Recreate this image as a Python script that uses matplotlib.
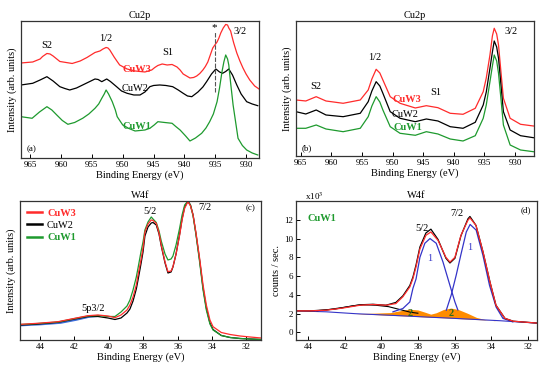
import matplotlib
matplotlib.use('Agg')
import matplotlib.pyplot as plt
import numpy as np

plt.rcParams['font.family'] = ['Liberation Serif', 'DejaVu Serif']
plt.rcParams['mathtext.fontset'] = 'stix'

RED = '#ff2b2b'
GREEN = '#1e9a2e'
BLUE = '#3434c8'
ORANGE = '#ff8c00'

# ---- panel (a): Cu2p, sample set 1 (arb. units) ----
a_red_e = [966.5, 964.6, 963.4, 963.0, 962.3, 961.8, 961.3, 960.2, 958.2, 956.9, 955.8, 954.5,
           953.7, 953.2, 952.7, 952.4, 952.1, 951.8, 951.4, 950.9, 950.5, 949.3, 948.0, 946.4,
           945.3, 944.8, 944.3, 943.6, 942.8, 942.0, 941.2, 940.7, 940.2, 939.1, 938.5, 938.0,
           937.5, 937.0, 936.6, 936.2, 935.8, 935.4, 935.0, 934.7, 934.4, 934.1, 933.7, 933.3,
           933.0, 932.8, 932.5, 932.3, 932.0, 931.5, 931.0, 930.5, 930.0, 929.4, 928.6, 927.9]
a_red_i = [95, 96, 99, 101.5, 104.5, 104, 102, 96.5, 94.5, 97, 100.5, 105.5,
           107, 109, 110.5, 110, 108, 105, 101, 96.5, 93, 89, 87, 86,
           88, 90.5, 92.5, 94, 93, 93.5, 91, 88, 84, 80, 80.5, 82,
           84.5, 88, 91.5, 96, 103, 110, 113.5, 116, 120, 125, 130, 133.5,
           133, 130, 127, 122, 115, 105, 97, 90, 84, 78, 72, 69]
a_blk_e = [966.5, 964.6, 963.4, 962.3, 961.3, 960.2, 959.4, 958.6, 957.5, 956.5, 955.5, 954.5,
           954.0, 953.4, 952.6, 952.0, 951.0, 950.2, 949.3, 948.2, 947.2, 946.4, 945.6, 945.0,
           944.0, 943.0, 941.9, 941.0, 940.2, 939.5, 938.8, 937.8, 937.0, 936.4, 935.6, 934.9,
           934.3, 933.8, 933.3, 932.8, 932.2, 931.5, 930.8, 929.9, 929.0, 928.1]
a_blk_i = [73, 74.7, 78, 81.3, 77, 71.3, 69.5, 68, 70, 73, 76, 79,
           78.5, 76.3, 79, 76.5, 71.3, 67, 64.7, 63, 63, 66, 71.3, 72.5,
           73, 72.5, 71.3, 68, 64.7, 62, 61.3, 66, 71, 76.3, 84, 89,
           86, 84.7, 86.5, 89, 83, 73, 64, 56.3, 54, 52.3]
a_grn_e = [966.5, 964.7, 963.5, 962.3, 961.5, 960.7, 959.8, 958.9, 957.8, 956.5, 955.5, 954.5,
           953.9, 953.4, 953.0, 952.7, 952.3, 951.7, 951.2, 950.9, 950.0, 949.0, 948.0, 947.2,
           946.4, 945.6, 944.9, 944.3, 943.2, 942.0, 941.4, 940.7, 939.8, 939.1, 938.2, 937.2,
           936.5, 935.9, 935.3, 934.7, 934.3, 933.9, 933.6, 933.3, 933.0, 932.8, 932.5, 932.1,
           931.3, 930.6, 929.9, 929.0, 928.1]
a_grn_i = [41.3, 39.7, 46, 51.3, 48, 43, 37.5, 33.7, 35.5, 39.7, 44, 49.7,
           54, 59.7, 64, 68, 64, 56.3, 48, 41.3, 33, 29.5, 27, 27.5,
           28, 29.7, 33, 36.3, 35.5, 34.7, 31.5, 28, 22, 17, 20, 24.7,
           30, 36.3, 44, 56.3, 70, 86.3, 96, 103, 99, 93, 75, 53,
           19.7, 12.5, 8, 5, 3]

# ---- panel (b): Cu2p, sample set 2 ----
b_e = [965.8, 964.2, 962.5, 960.9, 958.1, 955.3, 954.0, 953.4, 952.7, 952.1, 951.6, 950.4,
       948.8, 946.3, 944.5, 942.6, 940.6, 938.5, 936.5, 935.2, 934.7, 934.1, 933.7, 933.4,
       933.0, 932.7, 932.3, 931.9, 930.8, 929.1, 927.0]
b_red = [56, 55, 59.3, 55, 52.7, 56, 66, 77, 86.7, 83, 76, 59.3,
         52.7, 48, 50.3, 48.3, 42.7, 41.7, 47.7, 64.3, 78, 101, 120, 127.7,
         122, 111, 84, 57.7, 37.7, 31.7, 30]
b_blk = [44.3, 42, 46, 41, 39.3, 42.7, 54.3, 65, 74.3, 70, 62.7, 44.3,
         37.7, 34.3, 37, 35, 29.3, 27.7, 33.7, 51, 64, 87.7, 104, 115,
         109, 97.7, 71, 44.3, 26, 20.3, 18.3]
b_grn = [27.7, 27.7, 31, 27, 24.3, 27.7, 39.3, 50, 59.3, 54, 46, 29.3,
         22.7, 20.7, 24.3, 22, 17, 15, 20.3, 37.7, 51, 74.3, 90, 101,
         95, 82.7, 57, 31, 11, 6, 4.3]

# ---- panel (c): W4f, three samples ----
c_e = [45.10, 44.12, 42.95, 41.97, 41.21, 40.63, 40.05, 39.64, 39.29, 38.94, 38.77, 38.59,
       38.40, 38.30, 38.13, 38.01, 37.90, 37.72, 37.53, 37.43, 37.24, 37.08, 36.95, 36.73,
       36.56, 36.38, 36.27, 36.09, 35.88, 35.74, 35.59, 35.40, 35.25, 35.10, 34.93, 34.72,
       34.52, 34.33, 34.12, 33.94, 33.46, 32.95, 32.37, 31.79, 31.15]
c_red = [15.7, 16.7, 18.3, 21.7, 24.3, 25, 24, 22.3, 25, 30, 35, 43,
         55, 65, 80, 92, 108, 116, 120, 119.5, 116.7, 107, 95, 78,
         68.3, 69, 73.3, 86, 105, 120, 131.7, 138.3, 134, 125, 107, 81.7,
         55, 35, 20, 13.3, 7.5, 5.5, 4, 3, 2]
c_blk = [15, 16, 17.7, 21, 23.5, 23.5, 22, 20.5, 22, 27, 31, 39,
         51, 60, 76, 88, 104, 113, 117, 117.5, 115, 106, 94, 77,
         67, 68, 73, 86, 106, 121, 133, 139, 135, 125, 106, 80,
         52, 32, 17, 10.5, 4.5, 2.5, 1.5, 1, 0.5]
c_grn = [15.5, 16.5, 18, 21.5, 24, 24.5, 23.5, 23.5, 28, 34, 40, 50,
         63, 72, 88, 98, 110, 118, 123, 121, 117.5, 109, 99, 86,
         80, 81, 84, 95, 112, 125, 135, 139, 134.5, 124, 105, 78,
         50, 30, 16, 10, 4.5, 2.5, 1.5, 1, 0.5]
c_bg_e = [45.10, 43.95, 42.80, 41.90, 41.15, 40.55]
c_bg_i = [14.5, 15.5, 17, 20, 23, 24]

# ---- panel (d): W4f fit of CuW1 (counts/sec, x10^3) ----
d_env_e = [44.65, 43.9, 43.0, 42.1, 41.16, 40.45, 39.74, 39.2, 38.82, 38.44, 38.27, 38.1,
           37.89, 37.56, 37.29, 36.9, 36.47, 36.25, 35.98, 35.65, 35.27, 35.16, 34.83, 34.45,
           34.07, 33.74, 33.25, 32.8, 32.15, 31.5]
d_fit = [2.3, 2.3, 2.37, 2.6, 2.9, 2.98, 2.9, 3.08, 3.8, 4.85, 5.74, 7.0,
         8.9, 10.35, 10.7, 9.8, 8.0, 7.5, 8.0, 10.35, 11.95, 12.2, 11.4, 8.6,
         5.4, 2.9, 1.5, 1.2, 1.1, 1.0]
d_meas = [2.3, 2.3, 2.4, 2.65, 2.95, 3.0, 2.9, 3.2, 3.9, 5.0, 5.9, 7.2,
          9.1, 10.6, 11.0, 9.9, 7.9, 7.4, 7.9, 10.3, 12.1, 12.35, 11.4, 8.6,
          5.4, 2.9, 1.5, 1.2, 1.1, 1.0]
d_p52_e = [39.36, 38.82, 38.44, 38.27, 38.1, 37.89, 37.62, 37.34, 37.0, 36.63, 36.25, 35.98, 35.82]
d_p52 = [2.2, 2.55, 3.25, 4.7, 5.7, 8.0, 9.5, 10.0, 9.5, 7.5, 5.0, 3.25, 2.4]
d_p72_e = [36.45, 36.18, 35.91, 35.64, 35.36, 35.15, 34.82, 34.45, 34.09, 33.73, 33.36, 32.82]
d_p72 = [2.37, 4.0, 6.1, 8.4, 10.7, 11.5, 10.9, 8.2, 5.0, 2.7, 1.5, 1.13]
d_5p_e = [43.5, 42.5, 41.5, 41.0, 40.3, 39.6, 39.0, 38.4, 38.0]
d_5p = [2.32, 2.5, 2.85, 2.95, 2.9, 2.75, 2.45, 2.15, 2.05]
d_bg_e = [44.65, 43.0, 41.4, 40.5, 39.5, 38.5, 37.5, 36.5, 35.5, 34.5, 33.5, 32.5, 31.5]
d_bg = [2.3, 2.2, 2.0, 1.92, 1.83, 1.74, 1.64, 1.55, 1.45, 1.35, 1.25, 1.12, 1.0]
d_c2_e = [41.4, 40.5, 39.5, 39.0, 38.5, 38.0, 37.6, 37.3, 37.0, 36.6, 36.2, 35.8, 35.3, 34.8, 34.3, 33.8]
d_c2 = [2.0, 2.05, 2.12, 2.3, 2.48, 2.4, 2.15, 1.95, 2.1, 2.45, 2.6, 2.45, 2.05, 1.6, 1.36, 1.25]

fig = plt.figure(figsize=(5.5, 3.7), dpi=100)
ax_a = fig.add_axes([0.0382, 0.573, 0.4327, 0.3703])
ax_b = fig.add_axes([0.5382, 0.5784, 0.4327, 0.3649])
ax_c = fig.add_axes([0.0364, 0.0811, 0.4382, 0.3757])
ax_d = fig.add_axes([0.5382, 0.0811, 0.4382, 0.3757])

for ax in (ax_a, ax_b, ax_c, ax_d):
    for s in ax.spines.values():
        s.set_linewidth(0.9)
        s.set_color('#333333')
    ax.tick_params(direction='in', length=3, width=0.7, labelsize=6.5, pad=2,
                   top=False, right=False)
    ax.set_xlabel('Binding Energy (eV)', fontsize=7.5, labelpad=1)

lw = 0.9

# (a)
ax_a.plot(a_red_e, a_red_i, color=RED, lw=lw)
ax_a.plot(a_blk_e, a_blk_i, color='black', lw=lw)
ax_a.plot(a_grn_e, a_grn_i, color=GREEN, lw=lw)
ax_a.vlines(935, 66, 126, colors='#555555', linestyles=(0, (4, 1.5)), lw=0.8)
ax_a.set_xlim(966.5, 927.9)
ax_a.set_ylim(0, 137)
ax_a.set_xticks([965, 960, 955, 950, 945, 940, 935, 930])
ax_a.set_yticks([])
ax_a.set_ylabel('Intensity (arb. units)', fontsize=7.5, labelpad=3)
ax_a.set_title('Cu2p', fontsize=7.5, pad=2)
ax_a.text(962.3, 112, 'S2', fontsize=7.5, ha='center', va='center')
ax_a.text(952.7, 119, '1/2', fontsize=7.5, ha='center', va='center')
ax_a.text(942.7, 105, 'S1', fontsize=7.5, ha='center', va='center')
ax_a.text(931.0, 126, '3/2', fontsize=7.5, ha='center', va='center')
ax_a.text(935.2, 130, '*', fontsize=8, ha='center', va='center')
ax_a.text(947.7, 88, 'CuW3', fontsize=7.5, color=RED, fontweight='bold', ha='center', va='center')
ax_a.text(948.0, 69, 'CuW2', fontsize=7.5, color='black', ha='center', va='center')
ax_a.text(947.7, 31, 'CuW1', fontsize=7.5, color=GREEN, fontweight='bold', ha='center', va='center')
ax_a.text(0.046, 0.066, '(a)', fontsize=6.5, ha='center', va='center', transform=ax_a.transAxes)

# (b)
ax_b.plot(b_e, b_red, color=RED, lw=lw)
ax_b.plot(b_e, b_blk, color='black', lw=lw)
ax_b.plot(b_e, b_grn, color=GREEN, lw=lw)
ax_b.set_xlim(965.8, 926.9)
ax_b.set_ylim(0, 135)
ax_b.set_xticks([965, 960, 955, 950, 945, 940, 935, 930])
ax_b.set_yticks([])
ax_b.set_ylabel('Intensity (arb. units)', fontsize=7.5, labelpad=3)
ax_b.set_title('Cu2p', fontsize=7.5, pad=2)
ax_b.text(962.5, 69, 'S2', fontsize=7.5, ha='center', va='center')
ax_b.text(952.9, 98, '1/2', fontsize=7.5, ha='center', va='center')
ax_b.text(942.9, 63, 'S1', fontsize=7.5, ha='center', va='center')
ax_b.text(930.6, 124, '3/2', fontsize=7.5, ha='center', va='center')
ax_b.text(947.6, 56, 'CuW3', fontsize=7.5, color=RED, fontweight='bold', ha='center', va='center')
ax_b.text(948.0, 41, 'CuW2', fontsize=7.5, color='black', ha='center', va='center')
ax_b.text(947.5, 28, 'CuW1', fontsize=7.5, color=GREEN, fontweight='bold', ha='center', va='center')
ax_b.text(0.046, 0.06, '(b)', fontsize=6.5, ha='center', va='center', transform=ax_b.transAxes)

# (c)
ax_c.plot(c_bg_e, c_bg_i, color='#3a6bd8', lw=1.2)
ax_c.plot(c_e, c_blk, color='black', lw=lw, label='CuW2')
ax_c.plot(c_e, c_grn, color=GREEN, lw=lw, label='CuW1')
ax_c.plot(c_e, c_red, color=RED, lw=lw, label='CuW3')
ax_c.set_xlim(45.16, 31.15)
ax_c.set_ylim(0, 139)
ax_c.set_xticks([44, 42, 40, 38, 36, 34, 32])
ax_c.set_yticks([])
ax_c.set_ylabel('Intensity (arb. units)', fontsize=7.5, labelpad=3)
ax_c.set_title('W4f', fontsize=7.5, pad=2)
h, l = ax_c.get_legend_handles_labels()
order = [2, 0, 1]
leg = ax_c.legend([h[i] for i in order], [l[i] for i in order], loc='upper left',
                  frameon=False, fontsize=7.5, handlelength=1.4, handletextpad=0.5,
                  labelspacing=0.3, borderaxespad=0.3)
for line in leg.get_lines():
    line.set_linewidth(1.8)
for txt, col, wt in zip(leg.get_texts(), [RED, 'black', GREEN], ['bold', 'normal', 'bold']):
    txt.set_color(col)
    txt.set_fontweight(wt)
ax_c.text(37.62, 128, '5/2', fontsize=7.5, ha='center', va='center')
ax_c.text(34.42, 132, '7/2', fontsize=7.5, ha='center', va='center')
ax_c.text(40.92, 31, '5p3/2', fontsize=7.5, ha='center', va='center')
ax_c.text(0.958, 0.95, '(c)', fontsize=6.5, ha='center', va='center', transform=ax_c.transAxes)

# (d)
ax_d.fill_between(d_c2_e, np.interp(d_c2_e, d_bg_e[::-1], d_bg[::-1]), d_c2, color=ORANGE, lw=0)
ax_d.plot(d_bg_e, d_bg, color=BLUE, lw=0.8)
ax_d.plot(d_5p_e, d_5p, color='black', lw=0.8)
ax_d.plot(d_p52_e, d_p52, color=BLUE, lw=lw)
ax_d.plot(d_p72_e, d_p72, color=BLUE, lw=lw)
ax_d.plot(d_env_e, d_meas, color='black', lw=lw)
ax_d.plot(d_env_e, d_fit, color=RED, lw=lw)
ax_d.set_xlim(44.65, 31.5)
ax_d.set_ylim(-0.8, 14)
ax_d.set_xticks([44, 42, 40, 38, 36, 34, 32])
ax_d.set_yticks([0, 2, 4, 6, 8, 10, 12])
ax_d.set_ylabel('counts / sec.', fontsize=7.5, labelpad=2)
ax_d.set_title('W4f', fontsize=7.5, pad=2)
ax_d.text(0.037, 1.035, r'x10$^3$', fontsize=6.5, ha='left', va='center', transform=ax_d.transAxes)
ax_d.text(43.25, 12.1, 'CuW1', fontsize=7.5, color=GREEN, fontweight='bold', ha='center', va='center')
ax_d.text(37.8, 11.1, '5/2', fontsize=7.5, ha='center', va='center')
ax_d.text(35.89, 12.7, '7/2', fontsize=7.5, ha='center', va='center')
ax_d.text(37.38, 7.9, '1', fontsize=7.5, color=BLUE, ha='center', va='center')
ax_d.text(35.2, 9.0, '1', fontsize=7.5, color=BLUE, ha='center', va='center')
ax_d.text(38.44, 2.05, '2', fontsize=7.5, color='#2f6b1c', fontweight='bold', ha='center', va='center')
ax_d.text(36.2, 2.05, '2', fontsize=7.5, color='#2f6b1c', fontweight='bold', ha='center', va='center')
ax_d.text(0.953, 0.935, '(d)', fontsize=6.5, ha='center', va='center', transform=ax_d.transAxes)

fig.savefig('out.png', dpi=100)
